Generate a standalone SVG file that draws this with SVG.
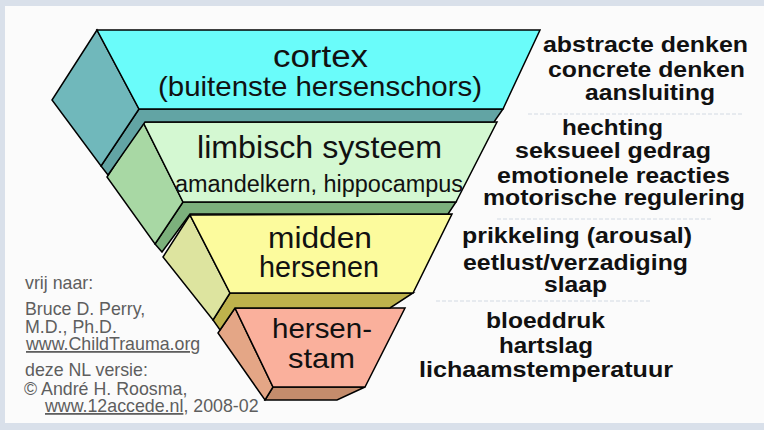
<svg xmlns="http://www.w3.org/2000/svg" width="764" height="430" viewBox="0 0 764 430">
<style>
.edge{stroke:#000;stroke-width:1.5;stroke-linejoin:miter}
.lbl{font-family:"Liberation Sans",Arial,sans-serif;fill:#111;text-anchor:middle}
.fn{font-family:"Liberation Sans",Arial,sans-serif;font-weight:bold;font-size:21.5px;fill:#111}
.src{font-family:"Liberation Sans",Arial,sans-serif;font-size:17.8px;fill:#5e5e5e}
.sep{stroke:#d3dae3;stroke-width:1;stroke-dasharray:4 2;fill:none}
</style>
<rect x="0" y="0" width="764" height="430" fill="#d9e0ea"/>
<rect x="5" y="6" width="759" height="417" fill="#fbfbfb"/>

<g id="hersenstam">
<polygon class="edge" points="265,400 273,387 365,387 337,400" fill="#c48c6c"/>
<polygon class="edge" points="235,308 218,333 265,400 273,387" fill="#e4a686"/>
<polygon class="edge" points="235,308 405,308 365,387 273,387" fill="#fab09c"/>
<text class="lbl" font-size="28" x="322" y="338" textLength="100" lengthAdjust="spacingAndGlyphs">hersen-</text>
<text class="lbl" font-size="28" x="321.5" y="368" textLength="67" lengthAdjust="spacingAndGlyphs">stam</text>
</g>

<g id="midden">
<polygon class="edge" points="213,320 230,293 413,293 390,308 235,308 220,330" fill="#beb24c"/>
<polygon class="edge" points="190,215 163,257 213,320 230,293" fill="#dde49f"/>
<polygon class="edge" points="190,215 452,214 413,293 230,293" fill="#fcfb9d"/>
<text class="lbl" font-size="30" x="320" y="248" textLength="104" lengthAdjust="spacingAndGlyphs">midden</text>
<text class="lbl" font-size="30" x="319" y="277" textLength="120" lengthAdjust="spacingAndGlyphs">hersenen</text>
</g>

<g id="limbisch">
<polygon class="edge" points="155,244 183,202 456,202 448,214 190,214 162,252" fill="#7cb07c"/>
<polygon class="edge" points="143,122 107,177 155,244 183,202" fill="#a8d8a4"/>
<polygon class="edge" points="143,122 497,122 456,202 183,202" fill="#d4f8d2"/>
<text class="lbl" font-size="32" x="319.5" y="158" textLength="245" lengthAdjust="spacingAndGlyphs">limbisch systeem</text>
<text class="lbl" font-size="23" x="319" y="191.5" textLength="288" lengthAdjust="spacingAndGlyphs">amandelkern, hippocampus</text>
</g>

<g id="cortex">
<polygon class="edge" points="101,166 139,109 503,109 494,122 145,122 108,175" fill="#62a4a4"/>
<polygon class="edge" points="97,30 52,100 101,166 139,109" fill="#70b8bb"/>
<polygon class="edge" points="97,30 540,30 503,109 139,109" fill="#6afcfa"/>
<text class="lbl" font-size="31" x="320.5" y="67" textLength="95" lengthAdjust="spacingAndGlyphs">cortex</text>
<text class="lbl" font-size="28" x="320" y="96" textLength="324" lengthAdjust="spacingAndGlyphs">(buitenste hersenschors)</text>
</g>

<g id="connectors"/>

<g id="separators">
<line class="sep" x1="528" y1="114" x2="743" y2="114"/>
<line class="sep" x1="497" y1="219" x2="712" y2="219"/>
<line class="sep" x1="436" y1="301" x2="652" y2="301"/>
</g>

<g id="functions">
<text class="fn" x="543" y="52" textLength="205" lengthAdjust="spacingAndGlyphs">abstracte denken</text>
<text class="fn" x="548" y="77" textLength="197" lengthAdjust="spacingAndGlyphs">concrete denken</text>
<text class="fn" x="585" y="100" textLength="130" lengthAdjust="spacingAndGlyphs">aansluiting</text>
<text class="fn" x="562" y="135" textLength="101" lengthAdjust="spacingAndGlyphs">hechting</text>
<text class="fn" x="515" y="158" textLength="196" lengthAdjust="spacingAndGlyphs">seksueel gedrag</text>
<text class="fn" x="497" y="183" textLength="233" lengthAdjust="spacingAndGlyphs">emotionele reacties</text>
<text class="fn" x="483" y="205" textLength="262" lengthAdjust="spacingAndGlyphs">motorische regulering</text>
<text class="fn" x="462" y="243" textLength="230" lengthAdjust="spacingAndGlyphs">prikkeling (arousal)</text>
<text class="fn" x="463" y="270" textLength="225" lengthAdjust="spacingAndGlyphs">eetlust/verzadiging</text>
<text class="fn" x="544" y="292" textLength="63" lengthAdjust="spacingAndGlyphs">slaap</text>
<text class="fn" x="486" y="328" textLength="119" lengthAdjust="spacingAndGlyphs">bloeddruk</text>
<text class="fn" x="499" y="353" textLength="94" lengthAdjust="spacingAndGlyphs">hartslag</text>
<text class="fn" x="419" y="377" textLength="254" lengthAdjust="spacingAndGlyphs">lichaamstemperatuur</text>
</g>

<g id="credits">
<text class="src" x="25" y="289">vrij naar:</text>
<text class="src" x="25" y="315">Bruce D. Perry,</text>
<text class="src" x="25" y="333">M.D., Ph.D.</text>
<text class="src" x="26" y="350" text-decoration="underline">www.ChildTrauma.org</text>
<text class="src" x="25" y="376">deze NL versie:</text>
<text class="src" x="24" y="395">© André H. Roosma,</text>
<text class="src" x="45" y="412"><tspan text-decoration="underline">www.12accede.nl</tspan>, 2008-02</text>
</g>
</svg>
